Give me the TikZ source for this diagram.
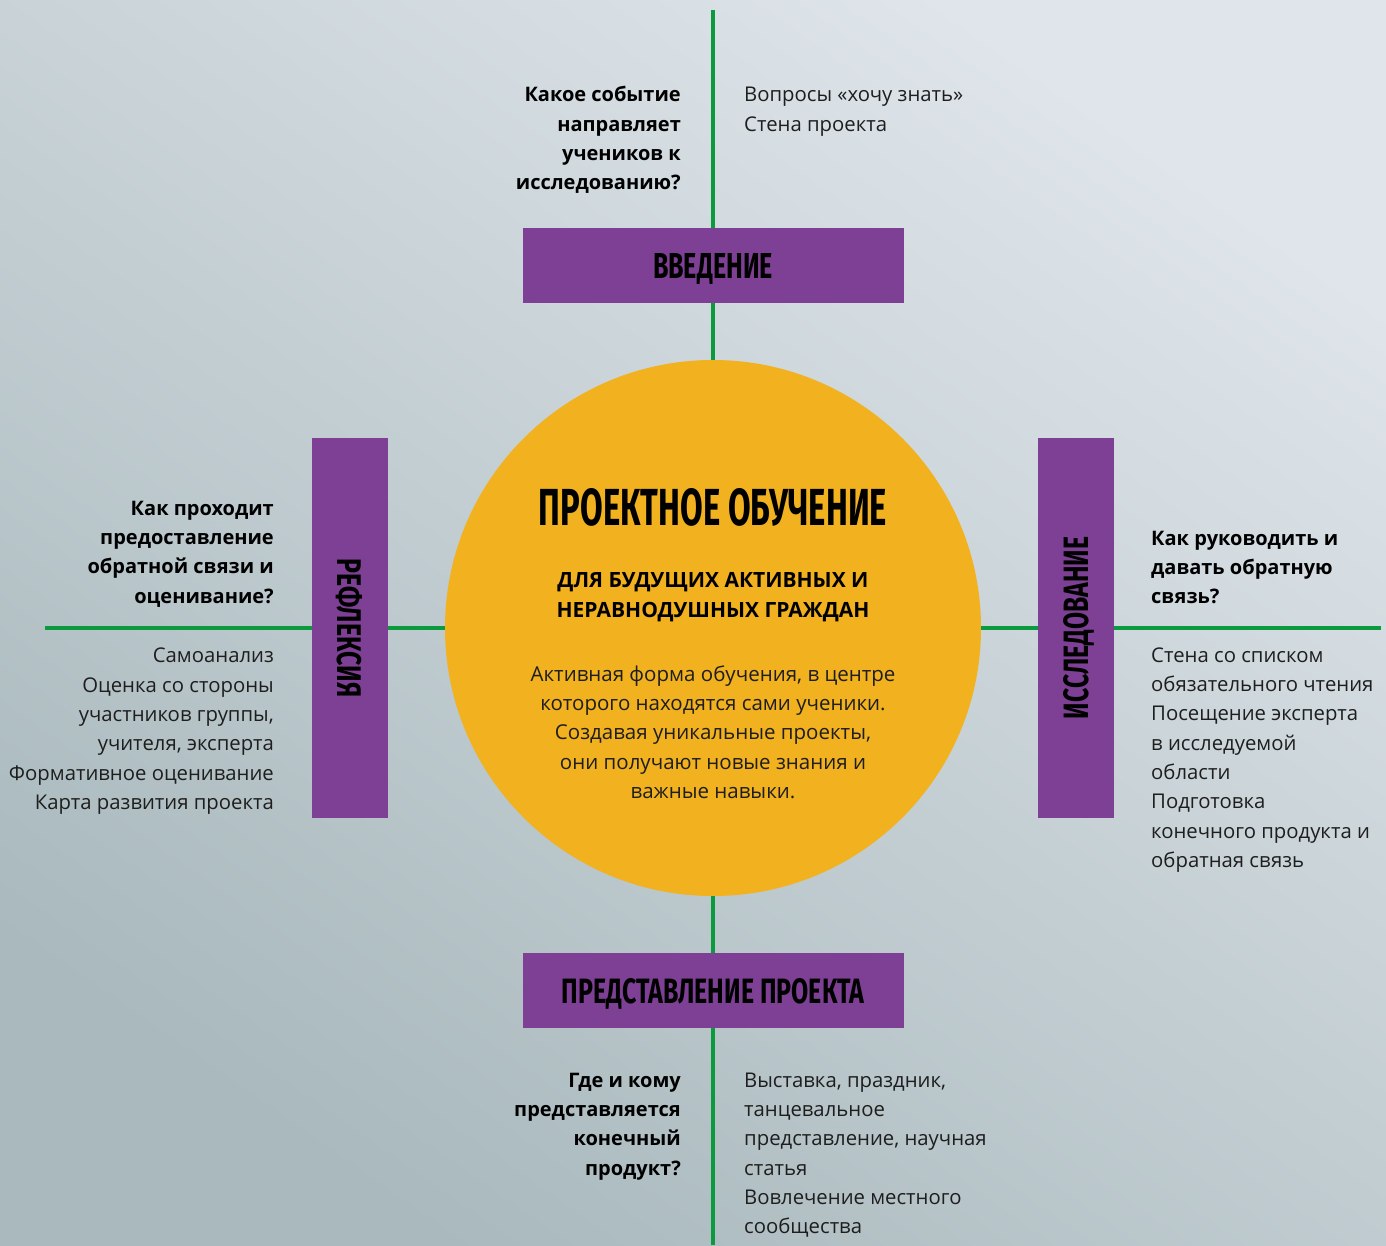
\documentclass[tikz,border=0pt]{standalone}
\usepackage{fontspec}
\usepackage{graphicx}
\setmainfont{Open Sans}
\newfontfamily\condfont{Fira Sans}
\definecolor{lgreen}{HTML}{0B9B3E}
\definecolor{lpurple}{HTML}{7E4094}
\definecolor{lyellow}{HTML}{F2B11E}
\definecolor{bgtr}{HTML}{DFE5EA}
\definecolor{bgmid}{HTML}{CDD6DB}
\definecolor{bgbl}{HTML}{A9B9BD}
\definecolor{tcol}{HTML}{1E1E1E}
\newcommand\cond[3]{\resizebox{#1pt}{#2pt}{\condfont\bfseries #3}}
\newcommand\fs{\rule{0pt}{20pt}}
\begin{document}
\begin{tikzpicture}[x=1pt,y=-1pt,
  conn/.style={draw=lgreen, line width=4.5pt},
  phase/.style={fill=lpurple, inner sep=0pt, text=black, text height=25pt, text depth=0pt},
  txt/.style={inner sep=0pt, font=\fontsize{20.3}{29.3}\selectfont, text=tcol},
  qtxt/.style={inner sep=0pt, font=\fontsize{20}{29.3}\selectfont\bfseries, text=black}]
\useasboundingbox (0,0) rectangle (1386,1245);
\fill[top color=bgtr, middle color=bgmid, bottom color=bgbl, shading angle=-35] (-2,-2) rectangle (1388,1247);
\coordinate (ctop) at (713,10);
\coordinate (cbot) at (713,1245);
\coordinate (cleft) at (45,628);
\coordinate (cright) at (1381,628);
\node[circle, fill=lyellow, minimum size=536, inner sep=0pt] (core) at (713,628) {};
\node[phase, minimum width=381, minimum height=75] (intro) at (713,265.5) {\cond{120}{25}{ВВЕДЕНИЕ}};
\node[phase, minimum width=381, minimum height=75] (pres) at (713,990.5) {\cond{303}{25}{ПРЕДСТАВЛЕНИЕ ПРОЕКТА}};
\node[phase, rotate=-90, minimum width=380, minimum height=76] (refl) at (350,628) {\cond{139}{25}{РЕФЛЕКСИЯ}};
\node[phase, rotate=90, minimum width=380, minimum height=76] (res) at (1076,628) {\cond{182}{25}{ИССЛЕДОВАНИЕ}};
\draw[conn] (ctop) -- (intro);
\draw[conn] (intro) -- (core);
\draw[conn] (core) -- (pres);
\draw[conn] (pres) -- (cbot);
\draw[conn] (cleft) -- (refl);
\draw[conn] (refl) -- (core);
\draw[conn] (core) -- (res);
\draw[conn] (res) -- (cright);
% circle texts
\node[anchor=base, inner sep=0pt] (title) at (713,525) {\cond{348}{37}{ПРОЕКТНОЕ ОБУЧЕНИЕ}};
\node[qtxt, font=\fontsize{21}{29.5}\selectfont\bfseries, align=center, anchor=north] (sub) at (713,567.5) {\fs ДЛЯ БУДУЩИХ АКТИВНЫХ И\\НЕРАВНОДУШНЫХ ГРАЖДАН};
\node[txt, font=\fontsize{20.5}{29.3}\selectfont, align=center, anchor=north] (desc) at (713,661) {\fs Активная форма обучения, в центре\\которого находятся сами ученики.\\Создавая уникальные проекты,\\они получают новые знания и\\важные навыки.};
% top
\node[qtxt, align=right, anchor=north east] (q1) at (681,81.7) {\fs Какое событие\\направляет\\учеников к\\исследованию?};
\node[txt, align=left, anchor=north west] (a1) at (744,81.7) {\fs Вопросы «хочу знать»\\Стена проекта};
% left
\node[qtxt, align=right, anchor=north east] (q4) at (274,495) {\fs Как проходит\\предоставление\\обратной связи и\\оценивание?};
\node[txt, align=right, anchor=north east] (a4) at (274,642.7) {\fs Самоанализ\\Оценка со стороны\\участников группы,\\учителя, эксперта\\Формативное оценивание\\Карта развития проекта};
% right
\node[qtxt, align=left, anchor=north west] (q2) at (1151,525) {\fs Как руководить и\\давать обратную\\связь?};
\node[txt, align=left, anchor=north west] (a2) at (1151,642) {\fs Стена со списком\\обязательного чтения\\Посещение эксперта\\в исследуемой\\области\\Подготовка\\конечного продукта и\\обратная связь};
% bottom
\node[qtxt, align=right, anchor=north east] (q3) at (681,1067) {\fs Где и кому\\представляется\\конечный\\продукт?};
\node[txt, align=left, anchor=north west] (a3) at (744,1067) {\fs Выставка, праздник,\\танцевальное\\представление, научная\\статья\\Вовлечение местного\\сообщества};
\end{tikzpicture}
\end{document}
